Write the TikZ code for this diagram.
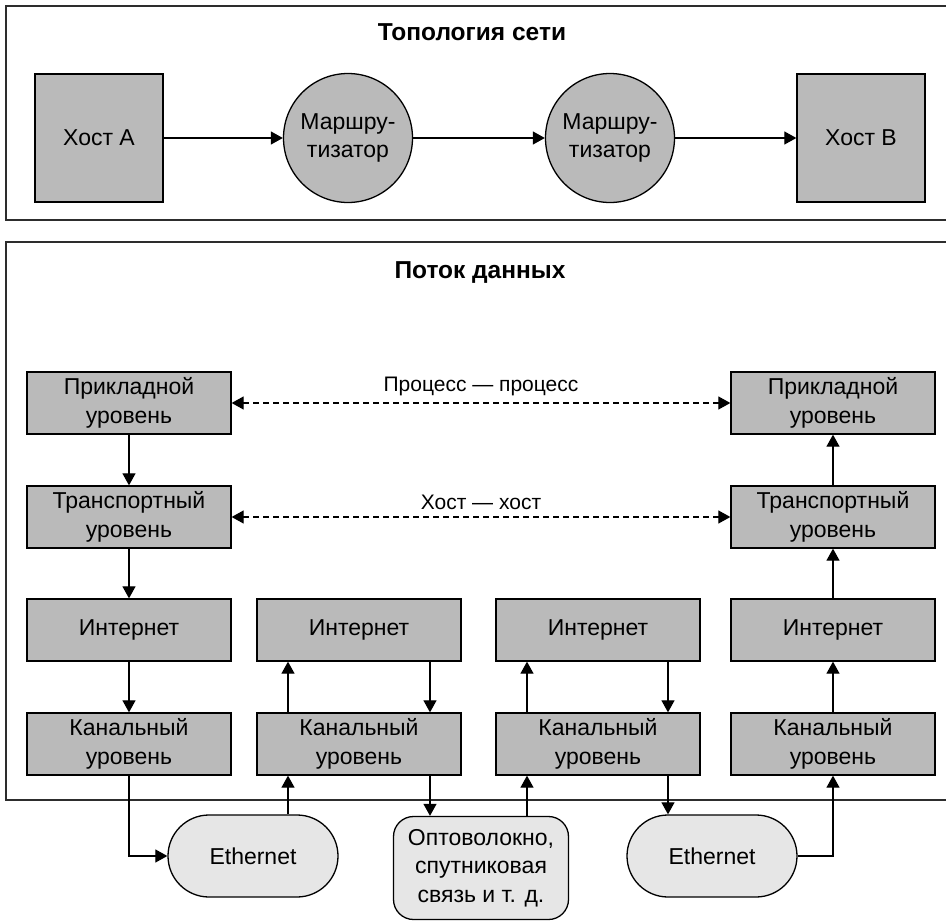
\documentclass[tikz,border=0pt]{standalone}
\usepackage{fontspec}
\setmainfont{Liberation Sans}
\usetikzlibrary{arrows.meta}
\definecolor{boxgray}{RGB}{186,186,186}
\definecolor{mediumgray}{RGB}{230,230,230}
\definecolor{framegray}{RGB}{45,45,45}

\begin{document}
\begin{tikzpicture}[x=1pt, y=-1pt,
        every node/.style={font=\fontsize{23}{28.5}\selectfont, align=center},
        layer/.style={draw, fill=boxgray, line width=1.3pt, minimum width=204pt, minimum height=62pt, inner sep=0pt},
        host/.style={layer, minimum width=128pt, minimum height=128pt},
        router/.style={circle, draw, fill=boxgray, line width=1.3pt, minimum size=129pt, inner sep=0pt},
        medium/.style={draw, fill=mediumgray, line width=1.3pt, minimum width=170pt, minimum height=82pt, rounded corners=41pt},
        arr/.style={-{Triangle[length=12pt,width=13pt]}, line width=1.2pt},
        peer/.style={{Triangle[length=12pt,width=13pt]}-{Triangle[length=12pt,width=13pt]}, line width=1.2pt, dash pattern=on 6pt off 4pt},
        frame/.style={draw=framegray, line width=1.8pt},
        heading/.style={font=\fontsize{24.5}{28}\selectfont\bfseries},
        peerlabel/.style={font=\fontsize{21}{26}\selectfont}]
        \useasboundingbox (0,0) rectangle (946,921);
        % frames
        \draw [frame] (6,6) rectangle (970,220);
        \draw [frame] (6,242) rectangle (970,800);
        \node [heading] (topo) at (472,32) {Топология сети};
        \node [heading] (flow) at (480,273) {Поток данных};
        % topology
        \node [host] (hostA) at (99,138) {Хост А};
        \node [router] (r1) at (348,138) {Маршру-\\тизатор};
        \node [router] (r2) at (610,138) {Маршру-\\тизатор};
        \node [host] (hostB) at (861,138) {Хост В};
        \draw [arr] (hostA) -- (r1);
        \draw [arr] (r1) -- (r2);
        \draw [arr] (r2) -- (hostB);
        % layers
        \node [layer] (app1) at (129,403) {Прикладной\\уровень};
        \node [layer] (tr1) at (129,517) {Транспортный\\уровень};
        \node [layer] (ip1) at (129,630) {Интернет};
        \node [layer] (ln1) at (129,744) {Канальный\\уровень};
        \node [layer] (ip2) at (359,630) {Интернет};
        \node [layer] (ln2) at (359,744) {Канальный\\уровень};
        \node [layer] (ip3) at (598,630) {Интернет};
        \node [layer] (ln3) at (598,744) {Канальный\\уровень};
        \node [layer] (app4) at (833,403) {Прикладной\\уровень};
        \node [layer] (tr4) at (833,517) {Транспортный\\уровень};
        \node [layer] (ip4) at (833,630) {Интернет};
        \node [layer] (ln4) at (833,744) {Канальный\\уровень};
        % media
        \node [medium] (eth1) at (253,856) {Ethernet};
        \node [medium, minimum width=175pt, minimum height=103pt, rounded corners=20pt] (fiber) at (481,868) {Оптоволокно,\\спутниковая\\связь и т. д.};
        \node [medium] (eth2) at (712,856) {Ethernet};
        % peer links
        \draw [peer] (app1) -- node [peerlabel, above=3pt] (pp) {Процесс — процесс} (app4);
        \draw [peer] (tr1) -- node [peerlabel, above=3pt] (hh) {Хост — хост} (tr4);
        % down the sender
        \draw [arr] (app1) -- (tr1);
        \draw [arr] (tr1) -- (ip1);
        \draw [arr] (ip1) -- (ln1);
        \draw [arr] (ln1) |- (eth1);
        % first router
        \draw [arr] ([xshift=-71pt]ln2.south |- eth1.north) -- ([xshift=-71pt]ln2.south);
        \draw [arr] ([xshift=-71pt]ln2.north) -- ([xshift=-71pt]ip2.south);
        \draw [arr] ([xshift=71pt]ip2.south) -- ([xshift=71pt]ln2.north);
        \draw [arr] ([xshift=71pt]ln2.south) -- ([xshift=71pt]ln2.south |- fiber.north);
        % second router
        \draw [arr] ([xshift=-71pt]ln3.south |- fiber.north) -- ([xshift=-71pt]ln3.south);
        \draw [arr] ([xshift=-71pt]ln3.north) -- ([xshift=-71pt]ip3.south);
        \draw [arr] ([xshift=70pt]ip3.south) -- ([xshift=70pt]ln3.north);
        \draw [arr] ([xshift=70pt]ln3.south) -- ([xshift=70pt]ln3.south |- eth2.north);
        % up the receiver
        \draw [arr] (eth2) -| (ln4);
        \draw [arr] (ln4) -- (ip4);
        \draw [arr] (ip4) -- (tr4);
        \draw [arr] (tr4) -- (app4);
    \end{tikzpicture}
\end{document}
